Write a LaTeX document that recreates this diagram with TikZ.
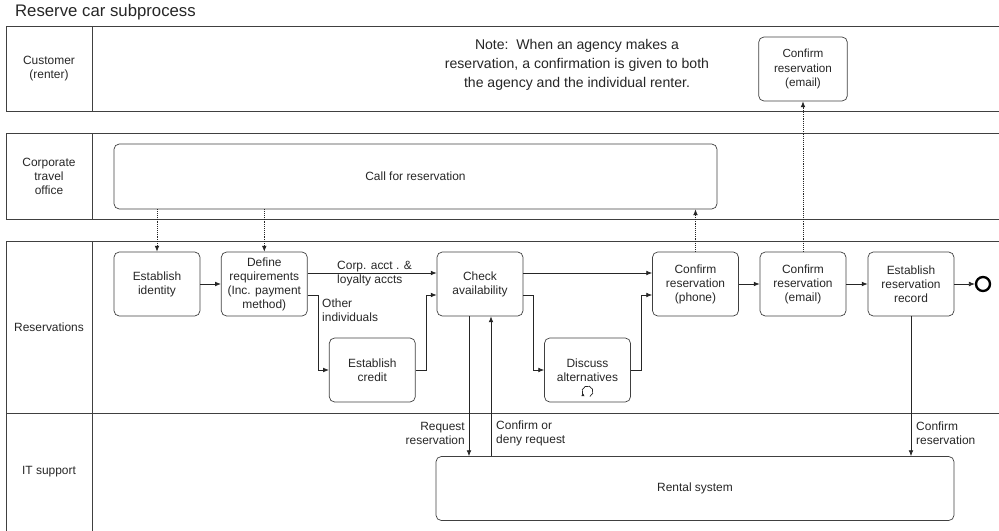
\documentclass[tikz,border=0pt]{standalone}
\usepackage{fontspec}
\setmainfont{Liberation Sans}
\usetikzlibrary{arrows.meta}

\begin{document}
\begin{tikzpicture}[x=0.03cm,y=-0.03cm,
  every node/.style={text=black!85, font=\fontsize{10.2}{11.9}\selectfont},
  task/.style={draw=black!75, line width=0.6pt, rounded corners=4.5pt,
    minimum width=2.58cm, minimum height=1.92cm, align=center, inner sep=0pt},
  lane/.style={draw=black!75, line width=0.8pt},
  flow/.style={draw=black!85, line width=0.6pt, -{Latex[length=5pt,width=4pt]}},
  msg/.style={draw=black!85, line width=0.6pt, dash pattern=on 0.8pt off 0.8pt,
    -{Latex[length=5pt,width=4pt]}},
  lbl/.style={inner sep=0pt},
]
\useasboundingbox (0,0) rectangle (999,531);
\clip (0,0) rectangle (999,531);

% title
\node[anchor=base west, font=\fontsize{14.3}{16}\selectfont] (title) at (11,16.7) {Reserve car subprocess};

% pools and lanes (open to the right)
\draw[lane] (1010,26) -- (6,26) -- (6,111) -- (1010,111);
\draw[lane] (92,26) -- (92,111);
\draw[lane] (1010,133) -- (6,133) -- (6,219) -- (1010,219);
\draw[lane] (92,133) -- (92,219);
\draw[lane] (1010,241) -- (6,241) -- (6,540);
\draw[lane] (92,241) -- (92,540);
\draw[lane] (6,413) -- (1010,413);

\node[align=center] (lcust) at (49,69) {Customer\\(renter)};
\node[align=center] (lcorp) at (49,176.5) {Corporate\\travel\\office};
\node (lres) at (49,327) {Reservations};
\node (lit) at (49,472) {IT support};

% customer lane
\node[align=center, font=\fontsize{12}{16.5}\selectfont] (note) at (577,65)
  {Note:\ \ When an agency makes a\\reservation, a confirmation is given to both\\the agency and the individual renter.};
\node[task, minimum width=2.66cm, font=\fontsize{10}{12}\selectfont] (custconf) at (803,69) {Confirm\\reservation\\(email)};

% corporate travel office
\node[task, minimum width=18.09cm, minimum height=1.95cm] (call) at (415.5,176.5) {Call for reservation};

% reservations lane
\node[task] (ident) at (157,284) {Establish\\identity};
\node[task] (defreq) at (264.3,284) {Define\\requirements\\(Inc. payment\\method)};
\node[task] (check) at (480,284) {Check\\availability};
\node[task] (credit) at (372.3,370) {Establish\\credit};
\node[task] (discuss) at (587.5,370) {};
\node[align=center] (discusstxt) at (587.5,370) {Discuss\\alternatives};
\node[task] (phone) at (695.5,284) {Confirm\\reservation\\(phone)};
\node[task] (email) at (803,284) {Confirm\\reservation\\(email)};
\node[task] (record) at (911,284) {Establish\\reservation\\record};
\node[draw=black, line width=2pt, circle, minimum size=0.42cm, inner sep=0pt] (end) at (983,284) {};

% loop marker
\draw[black!85, line width=0.6pt, -{Latex[length=2.6pt,width=2.8pt]}] (587.5,391.5) ++(425:5.5) arc[start angle=425, end angle=120, radius=5.5];

% IT support lane
\node[task, minimum width=15.54cm] (rental) at (695,488.5) {Rental system};

% sequence flows
\draw[flow] (ident) -- (defreq);
\draw[flow] (defreq.east |- 0,273) -- (check.west |- 0,273);
\draw[flow] (defreq.east |- 0,295) -| (318,370) -- (credit.west);
\draw[flow] (credit.east) -| (426,295) -- (check.west |- 0,295);
\draw[flow] (check.east |- 0,273) -- (phone.west |- 0,273);
\draw[flow] (check.east |- 0,295) -| (533,370) -- (discuss.west);
\draw[flow] (discuss.east) -| (641,295) -- (phone.west |- 0,295);
\draw[flow] (phone) -- (email);
\draw[flow] (email) -- (record);
\draw[flow] (record) -- (end);
\draw[flow] (check.south -| 469,0) -- (rental.north -| 469,0);
\draw[flow] (rental.north -| 491,0) -- (check.south -| 491,0);
\draw[flow] (record.south) -- (rental.north -| record.south);

% message flows
\draw[msg] (call.south -| ident.north) -- (ident.north);
\draw[msg] (call.south -| defreq.north) -- (defreq.north);
\draw[msg] (phone.north) -- (call.south -| phone.north);
\draw[msg] (email.north) -- (custconf.south);

% flow labels
\node[lbl, anchor=west, align=left] (lcorpacct) at (337,273.5) {Corp. acct . \&\\loyalty accts};
\node[lbl, anchor=west, align=left] (lother) at (322,310) {Other\\individuals};
\node[lbl, anchor=east, align=right] (lreq) at (465,433) {Request\\reservation};
\node[lbl, anchor=west, align=left] (lconf) at (496,433) {Confirm or\\deny request};
\node[lbl, anchor=west, align=left] (lconfres) at (916,433) {Confirm\\reservation};
\end{tikzpicture}
\end{document}
